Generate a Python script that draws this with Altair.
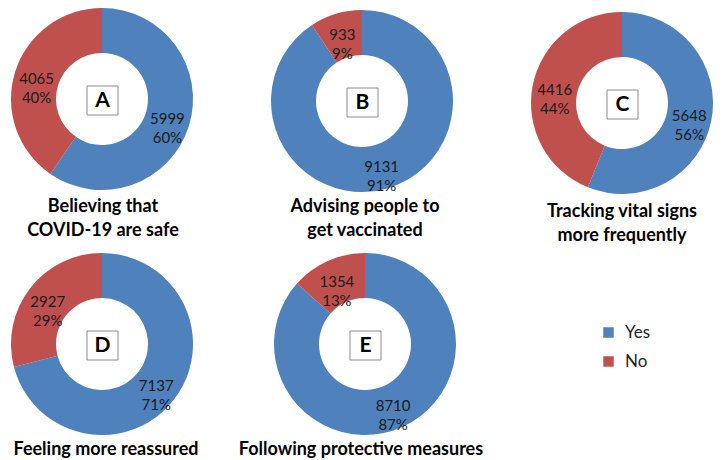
import altair as alt
import pandas as pd

panels = ["A", "B", "C", "D", "E"]
responses = ["Yes", "No"]
yes_counts = [5999, 9131, 5648, 7137, 8710]
no_counts = [4065, 933, 4416, 2927, 1354]
yes_pct = [60, 91, 56, 71, 87]
no_pct = [40, 9, 44, 29, 13]
titles = [
    ["Believing that", "COVID-19 are safe"],
    ["Advising people to", "get vaccinated"],
    ["Tracking vital signs", "more frequently"],
    ["Feeling more reassured"],
    ["Following protective measures"],
]

BLUE = "#4F81BD"
RED = "#C0504D"
FONT = "Lato"

# layout (chart-area pixels)
centers = {"A": (94, 88), "B": (354, 90), "C": (614, 92), "D": (94, 333), "E": (357, 333)}
title_pos = {"A": (95, 196), "B": (357, 196), "C": (614, 201), "D": (98, 439), "E": (353, 439)}
R_OUT, R_IN = 91, 46
LINE_H = 24

rows = []
for i, p in enumerate(panels):
    rows.append({"panel": p, "response": "Yes", "count": yes_counts[i], "pct": yes_pct[i], "order": 0,
                 "label": f"{yes_counts[i]}\n{yes_pct[i]}%"})
    rows.append({"panel": p, "response": "No", "count": no_counts[i], "pct": no_pct[i], "order": 1,
                 "label": f"{no_counts[i]}\n{no_pct[i]}%"})
df = pd.DataFrame(rows)

color_scale = alt.Scale(domain=responses, range=[BLUE, RED])

layers = []
for i, p in enumerate(panels):
    cx, cy = centers[p]
    base = alt.Chart(df).transform_filter(alt.datum.panel == p)
    if i == 0:
        color = alt.Color("response:N", scale=color_scale, sort=responses,
                          legend=alt.Legend(orient="none", legendX=592, legendY=313, title=None,
                                            symbolType="square", symbolSize=110, symbolStrokeWidth=0,
                                            labelFontSize=17, labelFont=FONT, labelColor="#222",
                                            rowPadding=11, labelOffset=8))
    else:
        color = alt.Color("response:N", scale=color_scale, legend=None)
    arc = base.mark_arc(outerRadius=R_OUT, innerRadius=R_IN).encode(
        theta=alt.Theta("count:Q", stack=True),
        color=color,
        order=alt.Order("order:Q"),
        x=alt.value(cx), y=alt.value(cy),
    )
    lab = base.mark_text(radius=(R_OUT + R_IN) / 2, lineBreak="\n", font=FONT, fontSize=15,
                         color="#1a1a1a", lineHeight=19, baseline="middle").encode(
        theta=alt.Theta("count:Q", stack=True),
        order=alt.Order("order:Q"),
        text="label:N",
        x=alt.value(cx), y=alt.value(cy),
    )
    one = alt.Chart(pd.DataFrame({"panel": [p]}))
    box = one.mark_rect(fill="white", stroke="#8c8c8c", strokeWidth=1).encode(
        x=alt.value(cx - 15), x2=alt.value(cx + 16), y=alt.value(cy - 13), y2=alt.value(cy + 16))
    letter = one.mark_text(font=FONT, fontSize=21, fontWeight="bold", color="black",
                           baseline="middle").encode(text="panel:N", x=alt.value(cx + 0.5), y=alt.value(cy + 2))
    layers += [arc, lab, box, letter]
    tx, ty = title_pos[p]
    for j, line in enumerate(titles[i]):
        t = alt.Chart(pd.DataFrame({"t": [line]})).mark_text(
            font=FONT, fontSize=18, fontWeight="bold", color="black", baseline="middle").encode(
            text="t:N", x=alt.value(tx), y=alt.value(ty + j * LINE_H))
        layers.append(t)

chart = alt.layer(*layers).resolve_scale(theta="independent").properties(
    width=710, height=444, padding=0
).configure_view(stroke=None)

chart.save("out.html", embed_options={"renderer": "svg", "actions": False})
